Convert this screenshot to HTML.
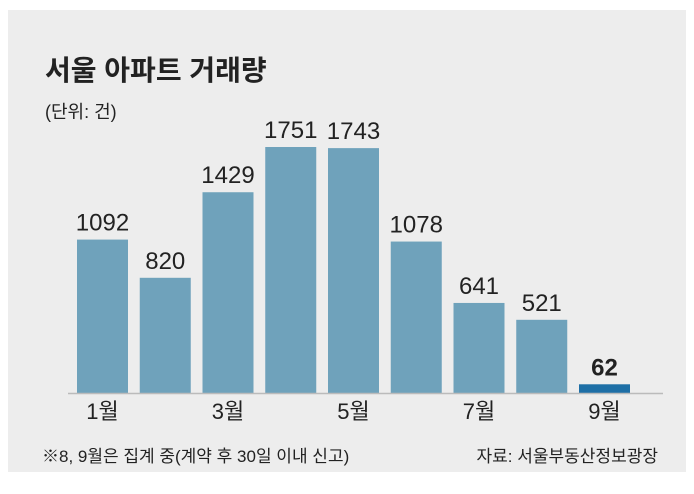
<!DOCTYPE html>
<html><head><meta charset="utf-8"><style>
body{margin:0;background:#fff;width:694px;height:494px;overflow:hidden}
svg{display:block}
text{font-family:"Liberation Sans","Noto Sans CJK KR",sans-serif;fill:#222}
</style></head><body>
<svg width="694" height="494">
<rect x="8" y="10" width="678" height="462" fill="#ededed"/>
<text x="45" y="80" font-size="28" font-weight="bold">서울 아파트 거래량</text>
<text x="45" y="118" font-size="18" fill="#444">(단위: 건)</text>
<g id="bars"></g>
<line x1="68" y1="393.5" x2="663" y2="393.5" stroke="#bbb" stroke-width="1.5"/>
<text x="42" y="462" font-size="17" fill="#333">※8, 9월은 집계 중(계약 후 30일 이내 신고)</text>
<text x="658" y="462" font-size="17" fill="#333" text-anchor="end">자료: 서울부동산정보광장</text>
</svg>
<script>
const categories=["1월","2월","3월","4월","5월","6월","7월","8월","9월"];
const values=[1092,820,1429,1751,1743,1078,641,521,62];
const showLabel=[true,false,true,false,true,false,true,false,true];
const base=393, scale=246/1751, x0=77, step=62.75, bw=51;
const y=v=>base-v*scale, x=i=>x0+i*step;
const g=document.getElementById('bars'), ns="http://www.w3.org/2000/svg";
values.forEach((v,i)=>{
  const r=document.createElementNS(ns,'rect');
  r.setAttribute('x',x(i));r.setAttribute('y',y(v));r.setAttribute('width',bw);r.setAttribute('height',base-y(v));
  r.setAttribute('fill',i===8?'#1e6fa6':'#6fa2bb');
  
  
  g.appendChild(r);
  const t=document.createElementNS(ns,'text');
  t.setAttribute('x',x(i)+bw/2);t.setAttribute('y',y(v)-9);t.setAttribute('text-anchor','middle');t.setAttribute('font-size','24');
  if(i===8)t.setAttribute('font-weight','bold');
  t.textContent=v;
  
  
  g.appendChild(t);
  if(showLabel[i]){
    const m=document.createElementNS(ns,'text');
    m.setAttribute('x',x(i)+bw/2);m.setAttribute('y',419);m.setAttribute('text-anchor','middle');m.setAttribute('font-size','22');
    m.textContent=categories[i];
    
    
    g.appendChild(m);
  }
});
</script>
</body></html>
